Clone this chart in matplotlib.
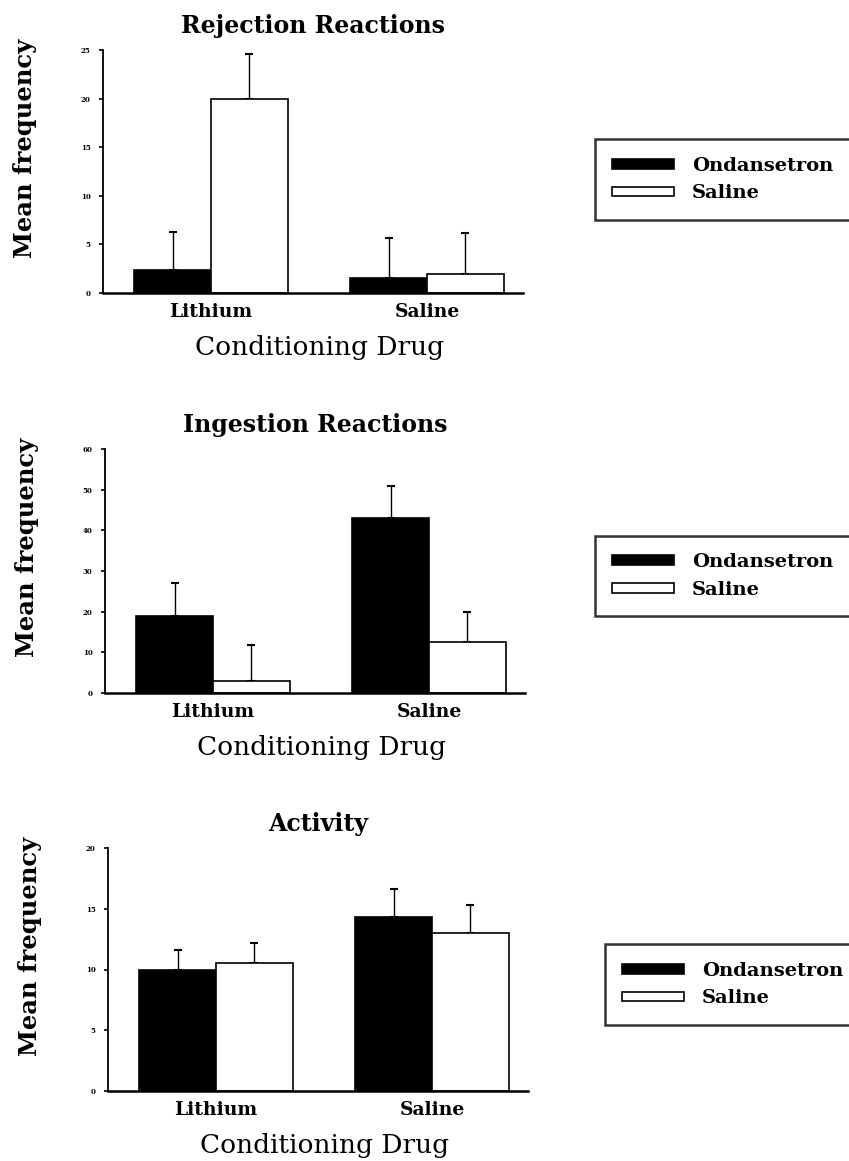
import matplotlib
matplotlib.use("Agg")
import matplotlib.pyplot as plt
import numpy as np

plt.rcParams["font.family"] = ["DejaVu Serif"]

groups = ["Lithium", "Saline"]
series_names = ["Ondansetron", "Saline"]

titles = ["Rejection Reactions", "Ingestion Reactions", "Activity"]
y_max = [25, 60, 20]
y_step = [5, 10, 5]

rejection_ond = [2.4, 1.5]
rejection_ond_err = [3.9, 4.2]
rejection_sal = [20.0, 2.0]
rejection_sal_err = [4.6, 4.2]

ingestion_ond = [19.0, 43.0]
ingestion_ond_err = [8.0, 8.0]
ingestion_sal = [3.0, 12.5]
ingestion_sal_err = [8.7, 7.5]

activity_ond = [10.0, 14.3]
activity_ond_err = [1.6, 2.3]
activity_sal = [10.5, 13.0]
activity_sal_err = [1.7, 2.3]

panels = [
    (rejection_ond, rejection_ond_err, rejection_sal, rejection_sal_err),
    (ingestion_ond, ingestion_ond_err, ingestion_sal, ingestion_sal_err),
    (activity_ond, activity_ond_err, activity_sal, activity_sal_err),
]

W, H = 849, 1161
fig = plt.figure(figsize=(W / 100, H / 100), dpi=100)

# axes boxes in pixels: left, top, bottom ; legend boxes: left, top, bottom
ax_px = [(103, 50, 293), (105, 449, 693), (108, 848, 1091)]
leg_px = [(585, 137, 222), (585, 535, 617), (595, 942, 1027)]

width = 0.355
x = np.arange(len(groups))

for i, (ond, ond_err, sal, sal_err) in enumerate(panels):
    left, top, bottom = ax_px[i]
    ax = fig.add_axes([left / W, 1 - bottom / H, 420 / W, (bottom - top) / H])

    b1 = ax.bar(x - width / 2, ond, width, color="black", edgecolor="black",
                linewidth=1.2, label=series_names[0], zorder=2)
    b2 = ax.bar(x + width / 2, sal, width, color="white", edgecolor="black",
                linewidth=1.2, label=series_names[1], zorder=2)
    ax.errorbar(x - width / 2, ond, yerr=[np.zeros(2), ond_err], fmt="none",
                ecolor="black", elinewidth=1.0, capsize=3, capthick=1.5, zorder=1)
    ax.errorbar(x + width / 2, sal, yerr=[np.zeros(2), sal_err], fmt="none",
                ecolor="black", elinewidth=1.0, capsize=3, capthick=1.5, zorder=1)

    ax.set_xlim(-0.5, 1.445)
    ax.set_ylim(0, y_max[i])
    ax.set_yticks(np.arange(0, y_max[i] + 1, y_step[i]))
    ax.tick_params(axis="y", labelsize=5, length=3, width=1.2, pad=6)
    for lab in ax.get_yticklabels():
        lab.set_fontweight("bold")
    ax.set_xticks(x)
    ax.set_xticklabels(groups, fontsize=13.5, fontweight="bold")
    ax.tick_params(axis="x", length=0, pad=7)
    ax.spines["top"].set_visible(False)
    ax.spines["right"].set_visible(False)
    ax.spines["left"].set_linewidth(1.3)
    ax.spines["bottom"].set_linewidth(1.8)

    ax.set_title(titles[i], fontsize=17, fontweight="bold", pad=12)
    ax.set_ylabel("Mean frequency", fontsize=17.5, fontweight="bold")
    ax.yaxis.set_label_coords(-66 / 420, 0.595)
    ax.set_xlabel("Conditioning Drug", fontsize=19)
    ax.xaxis.set_label_coords(217 / 420, -42 / (bottom - top))

    lx, ltop, lbot = leg_px[i]
    leg = ax.legend(handles=[b1, b2], loc="center left",
                    bbox_to_anchor=(lx / W, 1 - lbot / H, (880 - lx) / W, (lbot - ltop) / H),
                    bbox_transform=fig.transFigure, mode="expand",
                    prop={"size": 14, "weight": "bold"},
                    handlelength=3.2, handleheight=0.4, handletextpad=0.9,
                    labelspacing=0.5, borderpad=0.9, fancybox=False)
    leg.get_frame().set_edgecolor("black")
    leg.get_frame().set_linewidth(1.8)

fig.savefig("out.png", dpi=100)
